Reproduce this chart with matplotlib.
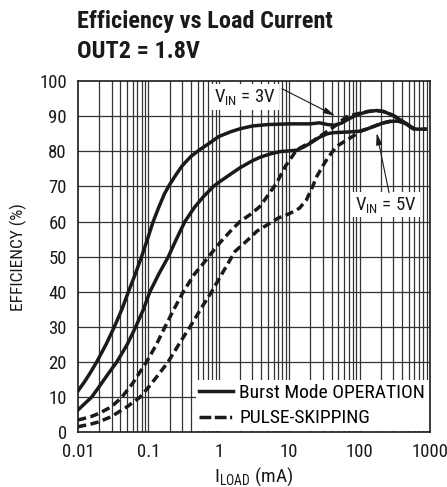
import matplotlib
matplotlib.use("Agg")
import matplotlib.pyplot as plt
from matplotlib.lines import Line2D
from matplotlib import font_manager as fm

_avail = {f.name for f in fm.fontManager.ttflist}
_prefs = ['Nimbus Sans Narrow', 'Liberation Sans Narrow', 'Arial Narrow', 'Roboto Condensed',
          'Archivo Narrow', 'PT Sans Narrow', 'IBM Plex Sans Condensed', 'Fira Sans Condensed',
          'Encode Sans Condensed', 'Asap Condensed', 'Barlow Semi Condensed', 'Liberation Sans']
FONT = next((p for p in _prefs if p in _avail), 'DejaVu Sans')
plt.rcParams['font.family'] = [FONT, 'DejaVu Sans']
plt.rcParams['lines.scale_dashes'] = False

# ---- data ----
burst_3v_x = [0.01, 0.0125, 0.015, 0.0184, 0.025, 0.0328, 0.042, 0.052, 0.065, 0.08, 0.097, 0.117, 0.14, 0.17, 0.2, 0.25, 0.3, 0.4, 0.54, 0.7, 1.0, 1.5, 2.0, 3.0, 5.0, 10, 20, 27, 35, 45, 55, 70, 90, 130, 175, 220, 300, 400, 500, 575]
burst_3v_y = [11.8, 14.5, 17, 20, 25, 30, 35, 40, 45, 50, 55, 60, 64, 68, 70.5, 73.5, 75.8, 78.5, 80.5, 82, 84.2, 85.6, 86.4, 87.2, 87.6, 87.8, 87.8, 88.1, 87.6, 87.4, 88.0, 89.2, 90.3, 91.3, 91.6, 91.3, 90.2, 88.6, 87.4, 86.5]

burst_5v_x = [0.01, 0.0125, 0.0156, 0.02, 0.0265, 0.0355, 0.05, 0.066, 0.085, 0.105, 0.14, 0.192, 0.25, 0.33, 0.45, 0.6, 0.84, 1.04, 1.5, 2.0, 3.0, 3.85, 5.5, 7.4, 10, 12.8, 16, 20, 27, 35, 43, 70, 100, 130, 170, 220, 270, 350, 416, 500, 575]
burst_5v_y = [6.35, 8.2, 10, 13, 16.5, 20, 25, 30, 35, 40, 45, 50, 55, 60, 64, 67, 70, 71.4, 73.6, 75.3, 77.3, 78.3, 79.3, 79.9, 80.1, 80.3, 81.2, 82.3, 84.0, 85.0, 85.3, 85.5, 85.7, 86.4, 87.3, 88.1, 88.5, 88.6, 88.2, 87.3, 86.5]

pskip_3v_x = [0.01, 0.015, 0.02, 0.03, 0.042, 0.06, 0.075, 0.094, 0.13, 0.172, 0.23, 0.313, 0.45, 0.6, 0.75, 1.04, 1.5, 2.0, 2.8, 3.85, 5.0, 6.6, 9, 12.8, 16, 22, 30, 40, 50, 65, 90, 130, 175, 220, 300, 400, 500, 575, 650, 900]
pskip_3v_y = [3.5, 4.4, 5.4, 7.3, 10, 14, 17, 20, 25, 30, 35, 40, 45, 48, 50.5, 54, 57.5, 60, 62, 64.3, 67.5, 70.9, 76, 80.4, 81.5, 83, 84.8, 86.5, 88, 89.8, 90.6, 91.3, 91.6, 91.3, 90.2, 88.6, 87.4, 86.5, 86.3, 86.3]

pskip_5v_x = [0.01, 0.015, 0.02, 0.03, 0.05, 0.076, 0.1, 0.14, 0.19, 0.27, 0.39, 0.55, 0.79, 1.1, 1.7, 2.5, 3.5, 5.3, 7, 9.2, 12, 14, 17.6, 21, 24.6, 30, 35, 47, 60, 70, 85, 100, 130, 170, 220, 270, 350, 416, 500, 575, 650, 900]
pskip_5v_y = [1.6, 2.3, 3.0, 4.5, 7.3, 10, 12.8, 16.5, 20, 25, 30, 35, 40, 45, 51.5, 54.5, 57.3, 59.5, 61, 61.9, 63, 63.8, 66.2, 69.5, 72.8, 75.8, 78, 81.4, 82.7, 83.5, 84.6, 85.6, 86.4, 87.3, 88.1, 88.5, 88.6, 88.2, 87.3, 86.5, 86.3, 86.3]

x_ticks = [0.01, 0.1, 1, 10, 100, 1000]
x_tick_labels = ['0.01', '0.1', '1', '10', '100', '1000']
y_ticks = list(range(0, 101, 10))

legend_labels = ['Burst Mode OPERATION', 'PULSE-SKIPPING']

# ---- figure ----
W, H = 447, 487
fig = plt.figure(figsize=(W / 100, H / 100), dpi=100)
ax = fig.add_axes([78 / W, 1 - 432.3 / H, (430 - 78) / W, (432.3 - 81) / H])

ax.set_xscale('log')
ax.set_xlim(0.01, 1000)
ax.set_ylim(0, 100)

# grid
grid_c = '#333333'
for dec in [0.01, 0.1, 1, 10, 100]:
    for m in range(1, 10):
        v = dec * m
        if 0.01 < v < 1000:
            ax.axvline(v, color=grid_c, lw=0.9, zorder=1)
for yv in y_ticks[1:-1]:
    ax.axhline(yv, color=grid_c, lw=0.9, zorder=1)

lw = 2.5
dash = (0, (6.0, 3.2))
ink = '#1a1a1a'
ax.plot(burst_3v_x, burst_3v_y, color=ink, lw=lw, zorder=3, solid_joinstyle='round')
ax.plot(burst_5v_x, burst_5v_y, color=ink, lw=lw, zorder=3, solid_joinstyle='round')
ax.plot(pskip_3v_x, pskip_3v_y, color=ink, lw=lw, ls=dash, zorder=3, dash_capstyle='butt')
ax.plot(pskip_5v_x, pskip_5v_y, color=ink, lw=lw, ls=dash, zorder=3, dash_capstyle='butt')

ax.set_xticks(x_ticks)
ax.set_xticklabels(x_tick_labels)
ax.set_yticks(y_ticks)
ax.xaxis.set_minor_locator(matplotlib.ticker.NullLocator())
ax.tick_params(axis='both', length=0, labelsize=13.5, colors=ink)
ax.tick_params(axis='x', pad=8)
ax.tick_params(axis='y', pad=8)
for s in ax.spines.values():
    s.set_linewidth(1.2)
    s.set_color(ink)
    s.set_zorder(5)

fig.text(254 / W, 1 - 482 / H, r'$\mathregular{I_{LOAD}}$ (mA)', fontsize=14,
         ha='center', va='baseline', color=ink)
ax.set_ylabel('EFFICIENCY (%)', fontsize=12.5, labelpad=9, color=ink)

# annotations
txtkw = dict(fontsize=13.5, color=ink, ha='center', va='center', zorder=6,
             bbox=dict(boxstyle='square,pad=0.15', fc='white', ec='none'))
ax.text(2.36, 95.5, r'$\mathregular{V_{IN}}$ = 3V', **txtkw)
ax.text(237, 64.8, r'$\mathregular{V_{IN}}$ = 5V', **txtkw)
arrkw = dict(arrowstyle='-|>,head_length=0.7,head_width=0.18', color=ink, lw=0.8,
             shrinkA=0, shrinkB=0)
ax.annotate('', xy=(44.9, 90.1), xytext=(7.9, 97.8), arrowprops=arrkw, zorder=7)
ax.annotate('', xy=(175, 85.2), xytext=(262, 68.2), arrowprops=arrkw, zorder=7)

handles = [Line2D([], [], color=ink, lw=lw),
           Line2D([], [], color=ink, lw=lw, ls=(0, (8.5, 2.5, 8.5, 2.5, 1.5, 3)))]
leg = ax.legend(handles, legend_labels, loc='lower right', fontsize=14,
                frameon=True, fancybox=False, framealpha=1, edgecolor='none',
                facecolor='white', borderaxespad=0.05, borderpad=0.2,
                handlelength=1.75, handletextpad=0.3, labelspacing=0.38)
leg.set_zorder(6)

# title
fig.text(77 / W, 1 - 28.3 / H, 'Efficiency vs Load Current', fontsize=17.5,
         fontweight='bold', ha='left', va='baseline', color=ink)
fig.text(77 / W, 1 - 58.3 / H, 'OUT2 = 1.8V', fontsize=17.5,
         fontweight='bold', ha='left', va='baseline', color=ink)

fig.savefig('out.png', dpi=100)
